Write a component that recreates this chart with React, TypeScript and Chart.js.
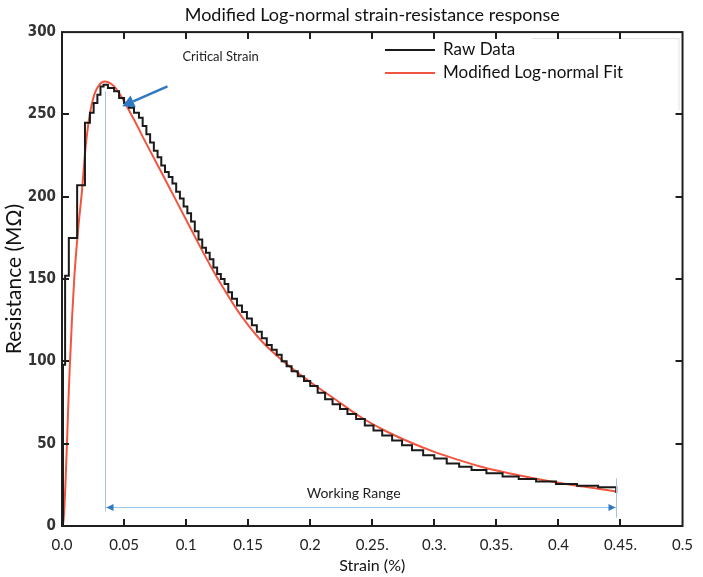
import React, { useEffect, useRef } from 'react';
import { Chart, registerables } from 'chart.js';

Chart.register(...registerables);

// ---------- DATA ----------
const chartTitle = 'Modified Log-normal strain-resistance response';
const xAxisTitle = 'Strain (%)';
const yAxisTitle = 'Resistance (MΩ)';
const rawLabel = 'Raw Data';
const fitLabel = 'Modified Log-normal Fit';

const rawStrain = [
  0, 0.0008, 0.0025, 0.0055, 0.0122, 0.0185, 0.0225, 0.0255, 0.0285, 0.031, 0.0335,
  0.037, 0.042, 0.046, 0.05, 0.054, 0.058, 0.062, 0.065, 0.068, 0.071, 0.074, 0.077,
  0.08, 0.083, 0.086, 0.089, 0.092, 0.095, 0.098, 0.101, 0.104, 0.107, 0.11, 0.113,
  0.116, 0.119, 0.122, 0.125, 0.128, 0.131, 0.134, 0.137, 0.141, 0.145, 0.149, 0.153,
  0.157, 0.161, 0.165, 0.169, 0.173, 0.177, 0.181, 0.185, 0.19, 0.195, 0.2, 0.206,
  0.212, 0.218, 0.224, 0.23, 0.237, 0.244, 0.251, 0.258, 0.266, 0.274, 0.282, 0.291,
  0.3, 0.31, 0.32, 0.33, 0.342, 0.355, 0.368, 0.382, 0.398, 0.415, 0.432, 0.4466,
];
const rawResistance = [
  0, 98, 152, 175, 207, 245, 251, 257, 262, 267, 268,
  266, 264, 260, 257, 254, 251, 248, 243, 238, 233, 228, 224,
  219, 215, 212, 208, 203, 199, 194, 190, 185, 179, 174, 169,
  166, 162, 157, 153, 150, 147, 142, 138, 134, 130, 126, 122,
  118, 114, 110, 107, 104, 100, 97, 94, 91, 88, 85, 81,
  77, 74, 71, 68, 65, 61, 58, 55, 52, 49, 46, 43,
  41, 38, 36, 34, 32, 30, 28.5, 27, 25.5, 24.5, 23.5, 20,
];

const fitStrain = [
  0, 0.001, 0.002, 0.003, 0.004, 0.005, 0.006, 0.008, 0.01, 0.013, 0.016, 0.019,
  0.022, 0.026, 0.03, 0.034, 0.038, 0.042, 0.046, 0.05, 0.055, 0.06, 0.065, 0.073,
  0.08, 0.09, 0.1, 0.11, 0.12, 0.13, 0.14, 0.15, 0.16, 0.17, 0.18, 0.19,
  0.2, 0.22, 0.24, 0.26, 0.28, 0.3, 0.32, 0.34, 0.36, 0.38, 0.4, 0.42, 0.4466,
];
const fitResistance = [
  0, 2, 12, 30, 50, 72, 92, 125, 152, 180, 203, 230,
  248, 262, 268, 270, 269.3, 267, 263, 258, 251, 244, 236.5, 225,
  215, 200.5, 186, 171.5, 157.5, 144.5, 132.5, 122, 113, 105.5, 99, 93,
  87.5, 77, 66.5, 58, 51, 45, 40, 35.5, 32, 29, 26.3, 24, 21,
];

const xTickValues = [0, 0.05, 0.1, 0.15, 0.2, 0.25, 0.3, 0.35, 0.4, 0.45, 0.5];
const xTickLabels = ['0.0', '0.05', '0.1', '0.15', '0.2', '0.25.', '0.3.', '0.35.', '0.4', '0.45.', '0.5'];
const yTickValues = [0, 50, 100, 150, 200, 250, 300];

// annotations (data units)
const criticalStrain = 0.0345;
const criticalLineTop = 264;
const criticalLabel = 'Critical Strain';
const criticalLabelPos = [0.097, 285];
const criticalArrowFrom = [0.085, 267];
const criticalArrowTo = [0.0485, 255];
const workingRangeLabel = 'Working Range';
const workingRangeEnd = 0.4466;
const workingRangeLevel = 11.5;
const workingRangeLabelPos = [0.235, 20];
const rightLineTop = 29;
const lineBottom = 9;

const SANS = 'Lato, "Open Sans", "Noto Sans", sans-serif';
const NARROW = '"Liberation Sans Narrow", "DejaVu Sans Condensed", "Arial Narrow", sans-serif';

const overlay = {
  id: 'overlay',
  afterDatasetsDraw(chart: any) {
    const { ctx, chartArea: a, scales } = chart;
    const x = scales.x;
    const y = scales.y;
    const line = (x1: number, y1: number, x2: number, y2: number) => {
      ctx.beginPath();
      ctx.moveTo(x1, y1);
      ctx.lineTo(x2, y2);
      ctx.stroke();
    };
    ctx.save();

    // annotation lines (light blue)
    ctx.strokeStyle = '#9fc5e8';
    ctx.lineWidth = 1;
    const cx = Math.round(x.getPixelForValue(criticalStrain)) + 0.5;
    const ex = Math.round(x.getPixelForValue(workingRangeEnd)) + 0.5;
    const wy = Math.round(y.getPixelForValue(workingRangeLevel)) + 0.5;
    line(cx, y.getPixelForValue(criticalLineTop), cx, y.getPixelForValue(lineBottom));
    line(ex, y.getPixelForValue(rightLineTop), ex, y.getPixelForValue(lineBottom - 4));
    line(cx, wy, ex, wy);
    // arrowheads
    ctx.fillStyle = '#2f78c4';
    ctx.beginPath();
    ctx.moveTo(cx + 1, wy);
    ctx.lineTo(cx + 8, wy - 3.5);
    ctx.lineTo(cx + 8, wy + 3.5);
    ctx.closePath();
    ctx.fill();
    ctx.beginPath();
    ctx.moveTo(ex - 1, wy);
    ctx.lineTo(ex - 8, wy - 3.5);
    ctx.lineTo(ex - 8, wy + 3.5);
    ctx.closePath();
    ctx.fill();

    // working range text
    ctx.fillStyle = '#222';
    ctx.font = `14px ${SANS}`;
    ctx.textAlign = 'center';
    ctx.textBaseline = 'middle';
    ctx.fillText(workingRangeLabel, x.getPixelForValue(workingRangeLabelPos[0]), y.getPixelForValue(workingRangeLabelPos[1]));

    // critical strain arrow
    const ax1 = x.getPixelForValue(criticalArrowFrom[0]);
    const ay1 = y.getPixelForValue(criticalArrowFrom[1]);
    const ax2 = x.getPixelForValue(criticalArrowTo[0]);
    const ay2 = y.getPixelForValue(criticalArrowTo[1]);
    const ang = Math.atan2(ay2 - ay1, ax2 - ax1);
    const hl = 12;
    const hw = 6.5;
    const bx = ax2 - hl * Math.cos(ang);
    const by = ay2 - hl * Math.sin(ang);
    ctx.strokeStyle = '#2f78c4';
    ctx.lineWidth = 2.5;
    line(ax1, ay1, bx, by);
    ctx.fillStyle = '#2f78c4';
    ctx.beginPath();
    ctx.moveTo(ax2, ay2);
    ctx.lineTo(bx + hw * Math.sin(ang), by - hw * Math.cos(ang));
    ctx.lineTo(bx - hw * Math.sin(ang), by + hw * Math.cos(ang));
    ctx.closePath();
    ctx.fill();
    ctx.fillStyle = '#222';
    ctx.font = `13px ${SANS}`;
    ctx.textAlign = 'left';
    ctx.fillText(criticalLabel, x.getPixelForValue(criticalLabelPos[0]), y.getPixelForValue(criticalLabelPos[1]));

    // legend
    const lx = 385;
    const lx2 = 435;
    const ly1 = 50;
    const ly2 = 73;
    ctx.lineWidth = 2;
    ctx.strokeStyle = chart.data.datasets[0].borderColor;
    line(lx, ly1, lx2, ly1);
    ctx.strokeStyle = chart.data.datasets[1].borderColor;
    line(lx, ly2, lx2, ly2);
    ctx.fillStyle = '#111';
    ctx.font = `17px ${SANS}`;
    ctx.fillText(chart.data.datasets[0].label, 443, ly1);
    ctx.fillText(chart.data.datasets[1].label, 443, ly2);
    // faint legend box edge
    ctx.strokeStyle = '#e2e2e2';
    ctx.lineWidth = 1;
    line(a.right - 3.5, a.top + 6, a.right - 3.5, a.top + 78);
    line(a.right - 150, a.top + 6.5, a.right - 3.5, a.top + 6.5);

    // frame
    ctx.strokeStyle = '#1e1e1e';
    ctx.lineWidth = 2;
    ctx.strokeRect(a.left, a.top, a.right - a.left, a.bottom - a.top);
    // inward ticks
    const tl = 7;
    xTickValues.forEach((v) => {
      if (v <= 0 || v >= 0.5) return;
      const px = Math.round(x.getPixelForValue(v));
      line(px, a.bottom, px, a.bottom - tl);
      line(px, a.top, px, a.top + tl);
    });
    yTickValues.forEach((v) => {
      if (v <= 0 || v >= 300) return;
      const py = Math.round(y.getPixelForValue(v));
      line(a.left, py, a.left + tl, py);
      line(a.right, py, a.right - tl, py);
    });
    ctx.restore();
  },
};

export default function App() {
  const ref = useRef<HTMLCanvasElement | null>(null);
  useEffect(() => {
    if (!ref.current) return;
    const chart = new Chart(ref.current, {
      type: 'line',
      data: {
        datasets: [
          {
            label: rawLabel,
            data: rawStrain.map((s, i) => ({ x: s, y: rawResistance[i] })),
            borderColor: '#1a1a1a',
            borderWidth: 2,
            pointRadius: 0,
            stepped: true,
            fill: false,
          },
          {
            label: fitLabel,
            data: fitStrain.map((s, i) => ({ x: s, y: fitResistance[i] })),
            borderColor: '#f2553f',
            borderWidth: 2,
            pointRadius: 0,
            cubicInterpolationMode: 'monotone',
            fill: false,
          },
        ],
      } as any,
      options: {
        responsive: false,
        animation: false,
        devicePixelRatio: 1,
        layout: { padding: { left: 0, right: 18, top: 0, bottom: 0 } },
        plugins: {
          legend: { display: false },
          tooltip: { enabled: false },
          title: {
            display: true,
            fullSize: false,
            text: chartTitle,
            color: '#111',
            font: { family: SANS, size: 18, weight: 'normal' },
            padding: { top: 4, bottom: 6.5 },
          },
        },
        scales: {
          x: {
            type: 'linear',
            min: 0,
            max: 0.5,
            grid: { display: false, drawTicks: false },
            border: { display: false },
            afterBuildTicks: (s: any) => {
              s.ticks = xTickValues.map((v) => ({ value: v }));
            },
            afterFit: (s: any) => {
              s.height = 51;
            },
            ticks: {
              autoSkip: false,
              maxRotation: 0,
              padding: 10,
              color: '#222',
              font: { family: SANS, size: 15 },
              callback: (_v: any, i: number) => xTickLabels[i],
            },
            title: {
              display: true,
              text: xAxisTitle,
              color: '#111',
              font: { family: SANS, size: 16 },
              padding: { top: 0, bottom: 2 },
            },
          },
          y: {
            type: 'linear',
            min: 0,
            max: 300,
            grid: { display: false, drawTicks: false },
            border: { display: false },
            afterBuildTicks: (s: any) => {
              s.ticks = yTickValues.map((v) => ({ value: v }));
            },
            afterFit: (s: any) => {
              s.width = 62;
            },
            ticks: {
              padding: 6,
              color: '#333',
              font: { family: NARROW, size: 15, weight: 'bold' },
            },
            title: {
              display: true,
              text: yAxisTitle,
              color: '#111',
              font: { family: SANS, size: 21 },
              padding: { top: 2, bottom: 0 },
            },
          },
        },
      } as any,
      plugins: [overlay],
    });
    return () => chart.destroy();
  }, []);
  return (
    <div style={{ position: 'fixed', left: 0, top: 0, width: 703, height: 577, background: '#fff' }}>
      <canvas ref={ref} width={703} height={577} style={{ width: 703, height: 577, display: 'block' }} />
    </div>
  );
}
